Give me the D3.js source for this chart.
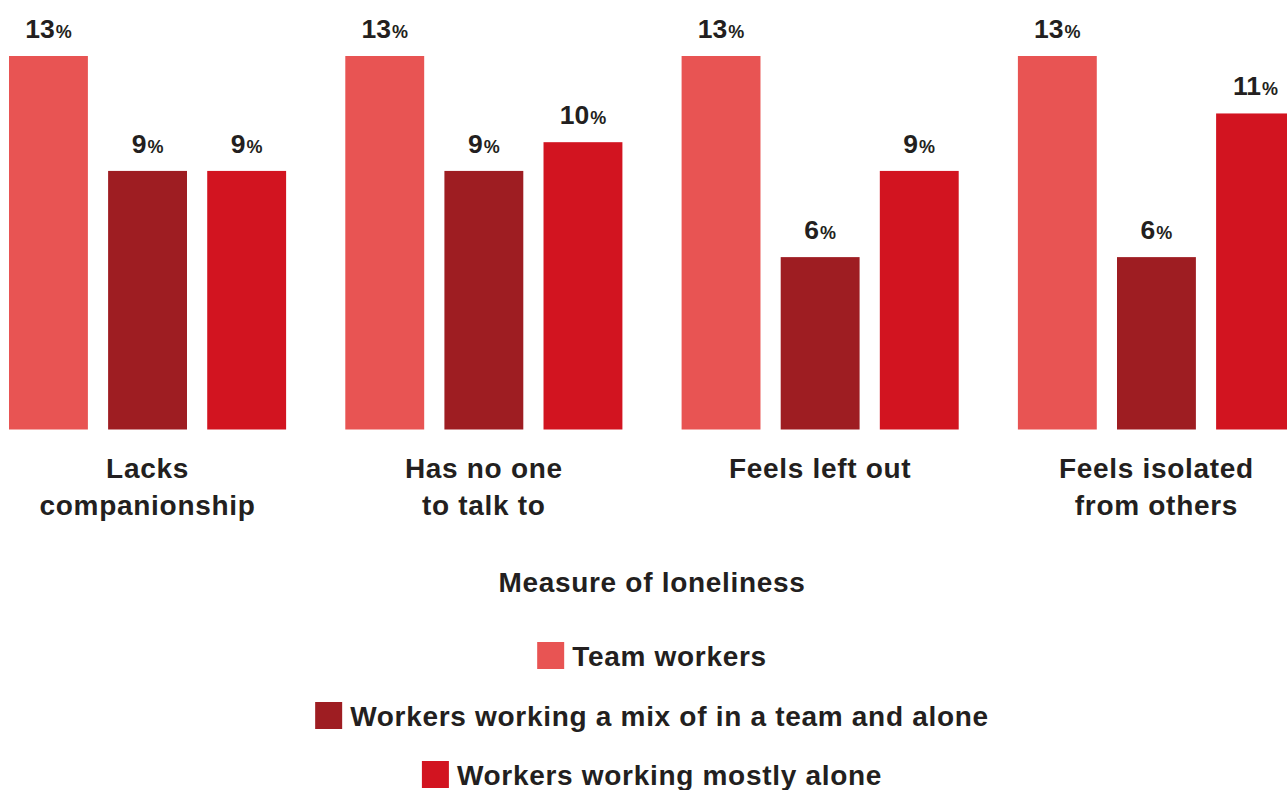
<!DOCTYPE html>
<html>
<head>
<meta charset="utf-8">
<script src="https://cdn.jsdelivr.net/npm/d3@7"></script>
<style>
  html, body { margin: 0; padding: 0; background: #fff; overflow: hidden; }
  svg { display: block; font-family: "Liberation Sans", Arial, Helvetica, sans-serif; font-weight: bold; }
  .wide { letter-spacing: 0.7px; }
</style>
</head>
<body>
<svg id="chart" width="1287" height="790"></svg>
<script>
// Loneliness measures (category labels, split into lines)
const categories = ["Lacks companionship", "Has no one to talk to", "Feels left out", "Feels isolated from others"];
const categoryLines = [["Lacks", "companionship"], ["Has no one", "to talk to"], ["Feels left out"], ["Feels isolated", "from others"]];

// Worker groups
const seriesNames = ["Team workers", "Workers working a mix of in a team and alone", "Workers working mostly alone"];
const seriesColors = ["#e85453", "#9e1d22", "#d21420"];

// Percent values per series, one entry per category
const teamValues  = [13, 13, 13, 13];
const mixValues   = [9, 9, 6, 6];
const aloneValues = [9, 10, 9, 11];
const seriesValues = [teamValues, mixValues, aloneValues];

const textColor = "#231f20";
const svg = d3.select("#chart");

const x0 = d3.scaleBand().domain(categories).range([9, 1295]).paddingInner(0.176).paddingOuter(0);
const x1 = d3.scaleBand().domain(seriesNames).range([0, x0.bandwidth()]).paddingInner(0.204).paddingOuter(0);
const baseline = 429.5;
const y = d3.scaleLinear().domain([0, 13]).range([baseline, 56]);

const rows = categories.map((c, i) => ({
  category: c,
  values: seriesNames.map((s, j) => ({ series: s, color: seriesColors[j], value: seriesValues[j][i] }))
}));

const groups = svg.selectAll("g.group").data(rows).join("g")
  .attr("class", "group")
  .attr("transform", d => `translate(${x0(d.category)},0)`);

groups.selectAll("rect").data(d => d.values).join("rect")
  .attr("x", d => x1(d.series))
  .attr("y", d => y(d.value))
  .attr("width", x1.bandwidth())
  .attr("height", d => baseline - y(d.value))
  .attr("fill", d => d.color);

// Value labels: number with a smaller percent sign
const labels = groups.selectAll("text.value").data(d => d.values).join("text")
  .attr("class", "value")
  .attr("x", d => x1(d.series) + x1.bandwidth() / 2)
  .attr("y", d => y(d.value) - 18)
  .attr("text-anchor", "middle")
  .attr("fill", textColor);
labels.append("tspan").attr("font-size", 26.5).text(d => d.value);
labels.append("tspan").attr("font-size", 18).attr("dx", 1).text("%");

// Category labels below bars
groups.append("text")
  .attr("class", "wide")
  .attr("x", x0.bandwidth() / 2)
  .attr("y", 478)
  .attr("text-anchor", "middle")
  .attr("font-size", 28)
  .attr("fill", textColor)
  .selectAll("tspan").data((d, i) => categoryLines[i]).join("tspan")
  .attr("x", x0.bandwidth() / 2)
  .attr("dy", (d, i) => i === 0 ? 0 : 36.5)
  .text(d => d);

// Axis title
svg.append("text")
  .attr("class", "wide")
  .attr("x", 652).attr("y", 592)
  .attr("text-anchor", "middle")
  .attr("font-size", 28)
  .attr("fill", textColor)
  .text("Measure of loneliness");

// Legend, one centred row per series
const legendRowY = [642, 702, 761];
const sq = 27, gap = 8, centerX = 652;
seriesNames.forEach((name, i) => {
  const g = svg.append("g");
  const t = g.append("text")
    .attr("class", "wide")
    .attr("y", legendRowY[i] + 23.5)
    .attr("font-size", 28)
    .attr("fill", textColor)
    .text(name);
  const w = t.node().getComputedTextLength();
  const left = centerX - (sq + gap + w) / 2;
  g.append("rect").attr("x", left).attr("y", legendRowY[i]).attr("width", sq).attr("height", sq).attr("fill", seriesColors[i]);
  t.attr("x", left + sq + gap);
});
</script>
</body>
</html>
